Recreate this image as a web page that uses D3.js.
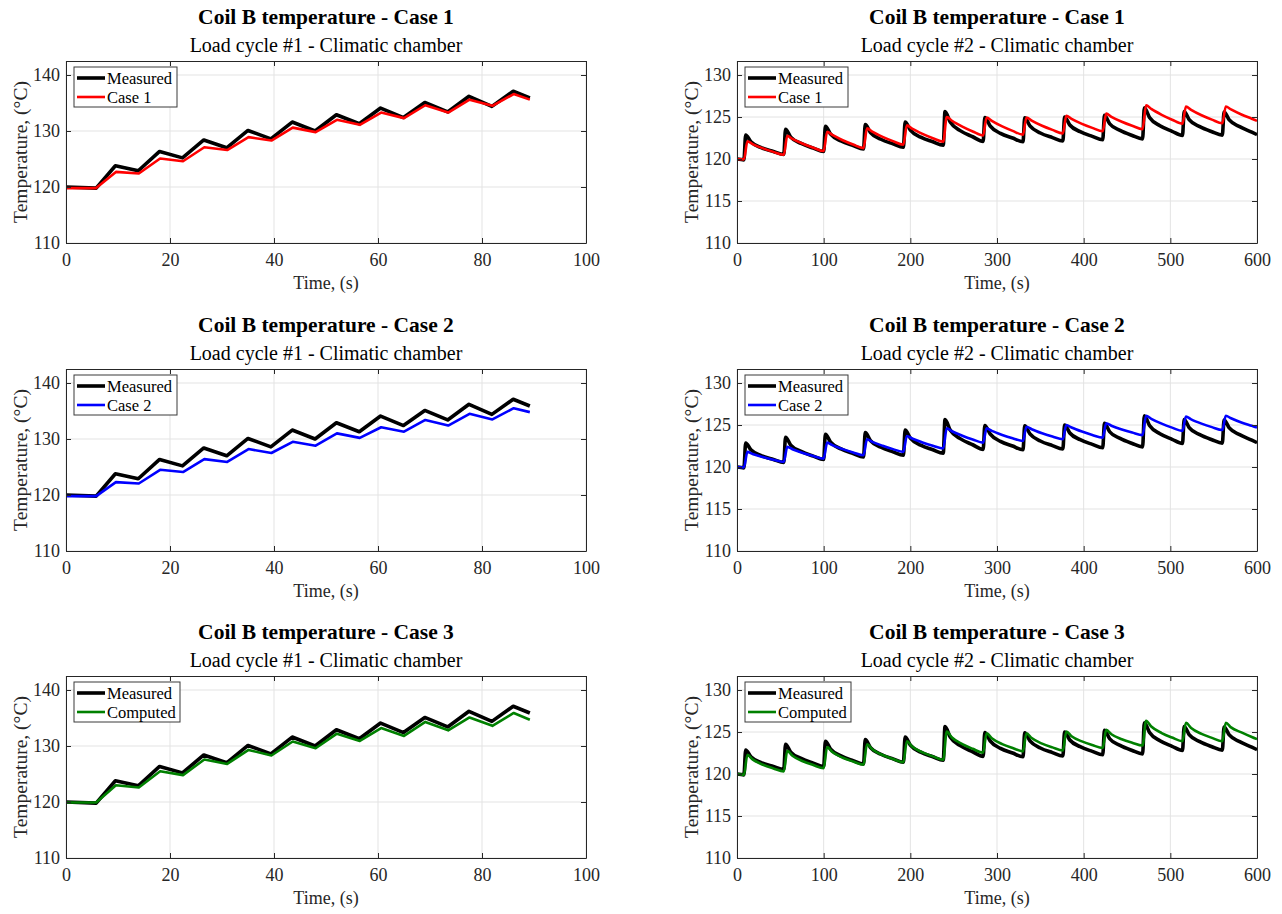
<!DOCTYPE html>
<html>
<head>
<meta charset="utf-8">
<script src="https://cdn.jsdelivr.net/npm/d3@7/dist/d3.min.js"></script>
<style>
    body { margin: 0; background: #fff; }
    svg text { font-family: "Liberation Serif", "Times New Roman", serif; fill: #262626; }
</style>
</head>
<body>
<div id="chart"></div>
<script>
//Datos - Load cycle #1 (0-90 s)
const tLeftMeas  = [0, 5.8, 9.5, 13.9, 18.0, 22.4, 26.5, 30.9, 35.0, 39.4, 43.5, 47.9, 52.0, 56.4, 60.5, 64.9, 69.0, 73.4, 77.5, 81.9, 86.0, 89.2];
const tLeftModel = [0, 5.8, 9.6, 14.0, 18.1, 22.5, 26.6, 31.0, 35.1, 39.5, 43.6, 48.0, 52.1, 56.5, 60.6, 65.0, 69.1, 73.5, 77.6, 82.0, 86.1, 89.2];
const leftMeasured = [120.0, 119.8, 123.8, 122.9, 126.35, 125.2, 128.4, 127.0, 130.1, 128.6, 131.6, 130.0, 132.9, 131.3, 134.1, 132.4, 135.1, 133.4, 136.2, 134.4, 137.1, 135.9];
const leftCase1    = [119.8, 119.8, 122.7, 122.4, 125.1, 124.6, 127.1, 126.6, 128.9, 128.3, 130.6, 129.8, 132.0, 131.1, 133.3, 132.3, 134.6, 133.3, 135.6, 134.5, 136.6, 135.6];
const leftCase2    = [119.8, 119.8, 122.3, 122.05, 124.5, 124.1, 126.4, 125.9, 128.2, 127.5, 129.5, 128.8, 131.0, 130.2, 132.1, 131.3, 133.4, 132.4, 134.5, 133.5, 135.5, 134.8];
const leftCase3    = [119.9, 119.9, 123.0, 122.6, 125.5, 124.8, 127.6, 126.8, 129.3, 128.3, 130.8, 129.6, 132.2, 130.9, 133.2, 131.8, 134.3, 132.8, 135.1, 133.6, 135.9, 134.7];

//Datos - Load cycle #2 (0-600 s)
const tRightMeas = [0, 8,
    10, 16, 28, 42, 54,   56, 62, 74, 88, 100,   102, 108, 120, 134, 146,   148, 154, 166, 180, 192,
    194, 200, 212, 226, 238,   240, 246, 258, 272, 284,   286, 292, 304, 318, 330,   332, 338, 350, 364, 376,
    378, 384, 396, 410, 422,   424, 430, 442, 456, 468,   470, 476, 488, 502, 514,   516, 522, 534, 548, 560,
    562, 568, 580, 594, 600];
const tRightModel = [0, 8,
    12, 18, 30, 42, 54,   58, 64, 76, 88, 100,   104, 110, 122, 134, 146,   150, 156, 168, 180, 192,
    196, 202, 214, 226, 238,   242, 248, 260, 272, 284,   288, 294, 306, 318, 330,   334, 340, 352, 364, 376,
    380, 386, 398, 410, 422,   426, 432, 444, 456, 468,   472, 478, 490, 502, 514,   518, 524, 536, 548, 560,
    564, 570, 582, 594, 600];
const rightMeasured = [120.0, 119.9,
    122.85, 122.05, 121.35, 120.9, 120.55,   123.55, 122.6, 121.85, 121.3, 120.9,   123.9, 122.95, 122.15, 121.6, 121.2,
    124.1, 123.15, 122.35, 121.8, 121.4,   124.4, 123.45, 122.6, 122.05, 121.65,   125.65, 124.4, 123.35, 122.65, 122.1,
    124.95, 123.95, 123.05, 122.5, 122.05,   124.9, 123.95, 123.1, 122.55, 122.15,   125.0, 124.05, 123.25, 122.7, 122.3,
    125.2, 124.2, 123.4, 122.8, 122.4,   126.1, 124.95, 123.95, 123.3, 122.8,   125.65, 124.65, 123.85, 123.25, 122.85,
    125.6, 124.65, 123.85, 123.2, 122.9];
const rightCase1 = [120.0, 119.95,
    122.1, 121.78, 121.27, 120.85, 120.5,   122.75, 122.39, 121.81, 121.35, 120.95,   123.25, 122.86, 122.24, 121.73, 121.3,
    123.65, 123.26, 122.64, 122.13, 121.7,   124.0, 123.61, 122.99, 122.48, 122.05,   125.0, 124.56, 123.86, 123.28, 122.8,
    124.95, 124.54, 123.88, 123.35, 122.9,   124.95, 124.57, 123.96, 123.47, 123.05,   125.15, 124.78, 124.19, 123.71, 123.3,
    125.4, 125.03, 124.44, 123.96, 123.55,   126.4, 125.96, 125.26, 124.68, 124.2,   126.25, 125.85, 125.21, 124.69, 124.25,
    126.25, 125.9, 125.3, 124.8, 124.55];
const rightCase2 = [120.0, 119.95,
    121.8, 121.56, 121.18, 120.86, 120.6,   122.4, 122.12, 121.68, 121.31, 121.0,   122.9, 122.6, 122.13, 121.74, 121.4,
    123.3, 123.0, 122.53, 122.13, 121.8,   123.7, 123.4, 122.93, 122.53, 122.2,   124.6, 124.26, 123.73, 123.28, 122.9,
    124.6, 124.3, 123.82, 123.42, 123.1,   124.8, 124.5, 124.02, 123.62, 123.3,   125.0, 124.7, 124.22, 123.82, 123.5,
    125.2, 124.92, 124.47, 124.1, 123.8,   126.1, 125.74, 125.16, 124.69, 124.3,   126.0, 125.68, 125.17, 124.75, 124.4,
    126.1, 125.8, 125.3, 124.9, 124.7];
const rightCase3 = [120.0, 119.9,
    122.3, 121.74, 121.1, 120.66, 120.3,   122.75, 122.18, 121.52, 121.07, 120.7,   123.2, 122.61, 121.94, 121.48, 121.1,
    123.55, 122.95, 122.26, 121.79, 121.4,   123.9, 123.28, 122.58, 122.1, 121.7,   125.05, 124.35, 123.55, 123.0, 122.55,
    124.85, 124.25, 123.56, 123.09, 122.7,   124.85, 124.28, 123.62, 123.17, 122.8,   125.05, 124.5, 123.88, 123.45, 123.1,
    125.25, 124.73, 124.14, 123.73, 123.4,   126.35, 125.66, 124.88, 124.34, 123.9,   126.1, 125.48, 124.78, 124.3, 123.9,
    126.1, 125.55, 124.95, 124.4, 124.15];

//Textos y ejes
const titles = ['Coil B temperature - Case 1', 'Coil B temperature - Case 2', 'Coil B temperature - Case 3'];
const subtitles = ['Load cycle #1 - Climatic chamber', 'Load cycle #2 - Climatic chamber'];
const modelNames = ['Case 1', 'Case 2', 'Computed'];
const xTicksLeft = [0, 20, 40, 60, 80, 100];
const xTicksRight = [0, 100, 200, 300, 400, 500, 600];
const yTicksLeft = [110, 120, 130, 140];
const yTicksRight = [110, 115, 120, 125, 130];

//Colores fijos
const COLOR_MEAS = '#000000',
    COLOR_MODELS = ['#ff0000', '#0000ff', '#008000'],
    COLOR_AXIS = '#262626',
    COLOR_GRID = '#e3e3e3';

const zip = (t, v) => t.map((d, i) => [d, v[i]]);

const svg = d3.select('#chart').append('svg')
    .attr('width', 1282)
    .attr('height', 914);

const cols = [{ left: 66, right: 586 }, { left: 737, right: 1257 }];
const rowTops = [61, 369, 676];
const plotHeight = 182;

const leftModels = [leftCase1, leftCase2, leftCase3];
const rightModels = [rightCase1, rightCase2, rightCase3];

function drawPanel(row, col) {
    let c = cols[col], top = rowTops[row], bottom = top + plotHeight;
    let width = c.right - c.left, height = plotHeight;
    let isLeft = col == 0;

    let x = d3.scaleLinear().domain(isLeft ? [0, 100] : [0, 600]).range([0, width]);
    let y = d3.scaleLinear().domain(isLeft ? [110, 142.5] : [110, 131.67]).range([height, 0]);
    let xt = isLeft ? xTicksLeft : xTicksRight;
    let yt = isLeft ? yTicksLeft : yTicksRight;

    let g = svg.append('g').attr('transform', 'translate(' + c.left + ',' + top + ')');

    //Titulos
    g.append('text')
        .attr('x', width / 2).attr('y', -37)
        .attr('text-anchor', 'middle')
        .style('font-size', '21.5px').style('font-weight', 'bold').style('fill', '#000')
        .text(titles[row]);
    g.append('text')
        .attr('x', width / 2).attr('y', -9)
        .attr('text-anchor', 'middle')
        .style('font-size', '20px').style('fill', '#000')
        .text(subtitles[col]);

    //Rejilla
    g.append('g').selectAll('line.gx').data(xt).enter().append('line')
        .attr('x1', d => x(d)).attr('x2', d => x(d))
        .attr('y1', 0).attr('y2', height)
        .attr('stroke', COLOR_GRID).attr('stroke-width', 1);
    g.append('g').selectAll('line.gy').data(yt).enter().append('line')
        .attr('x1', 0).attr('x2', width)
        .attr('y1', d => y(d)).attr('y2', d => y(d))
        .attr('stroke', COLOR_GRID).attr('stroke-width', 1);

    //Lineas
    let clipId = 'clip' + row + '_' + col;
    g.append('clipPath').attr('id', clipId)
        .append('rect').attr('width', width).attr('height', height);

    let line = d3.line()
        .x(d => x(d[0]))
        .y(d => y(d[1]))
        .curve(isLeft ? d3.curveLinear : d3.curveMonotoneX);

    let meas = isLeft ? zip(tLeftMeas, leftMeasured) : zip(tRightMeas, rightMeasured);
    let model = isLeft ? zip(tLeftModel, leftModels[row]) : zip(tRightModel, rightModels[row]);

    let lines = g.append('g').attr('clip-path', 'url(#' + clipId + ')');
    lines.append('path')
        .datum(meas)
        .attr('fill', 'none')
        .attr('stroke', COLOR_MEAS)
        .attr('stroke-width', 3.6)
        .attr('stroke-linejoin', 'round')
        .attr('d', line);
    lines.append('path')
        .datum(model)
        .attr('fill', 'none')
        .attr('stroke', COLOR_MODELS[row])
        .attr('stroke-width', 2.6)
        .attr('stroke-linejoin', 'round')
        .attr('d', line);

    //Ejes
    let axisStyle = function(a) {
        a.selectAll('path.domain').attr('stroke', COLOR_AXIS);
        a.selectAll('.tick line').attr('stroke', COLOR_AXIS);
        a.selectAll('.tick text')
            .style('font-size', '18px')
            .style('font-family', '"Liberation Serif", "Times New Roman", serif')
            .attr('fill', COLOR_AXIS);
    };

    g.append('g')
        .attr('transform', 'translate(0,' + height + ')')
        .call(d3.axisBottom(x).tickValues(xt).tickSizeInner(-5).tickSizeOuter(0).tickPadding(10))
        .call(axisStyle);
    g.append('g')
        .call(d3.axisLeft(y).tickValues(yt).tickSizeInner(-5).tickSizeOuter(0).tickPadding(6))
        .call(axisStyle);
    g.append('g')
        .call(d3.axisTop(x).tickValues(xt).tickSizeInner(-5).tickSizeOuter(0).tickFormat(''))
        .call(axisStyle);
    g.append('g')
        .attr('transform', 'translate(' + width + ',0)')
        .call(d3.axisRight(y).tickValues(yt).tickSizeInner(-5).tickSizeOuter(0).tickFormat(''))
        .call(axisStyle);

    //Etiquetas de ejes
    g.append('text')
        .attr('x', width / 2).attr('y', height + 46)
        .attr('text-anchor', 'middle')
        .style('font-size', '18px')
        .text('Time, (s)');
    g.append('text')
        .attr('transform', 'translate(-39,' + (height / 2) + ') rotate(-90)')
        .attr('text-anchor', 'middle')
        .style('font-size', '19.5px')
        .text('Temperature, (°C)');

    //Leyenda
    let leg = g.append('g').attr('transform', 'translate(8,6)');
    let legW = row == 2 ? 106 : 103;
    leg.append('rect')
        .attr('width', legW).attr('height', 40)
        .attr('fill', '#fff')
        .attr('stroke', '#3a3a3a').attr('stroke-width', 1);
    let items = [{ name: 'Measured', color: COLOR_MEAS, w: 3.6 }, { name: modelNames[row], color: COLOR_MODELS[row], w: 2.6 }];
    items.forEach(function(it, i) {
        leg.append('line')
            .attr('x1', 3).attr('x2', 31)
            .attr('y1', 11 + i * 19).attr('y2', 11 + i * 19)
            .attr('stroke', it.color).attr('stroke-width', it.w);
        leg.append('text')
            .attr('x', 33).attr('y', 17 + i * 19)
            .style('font-size', '16.5px').style('fill', '#000')
            .text(it.name);
    });
}

for (let r = 0; r < 3; r++) {
    drawPanel(r, 0);
    drawPanel(r, 1);
}
</script>
</body>
</html>
